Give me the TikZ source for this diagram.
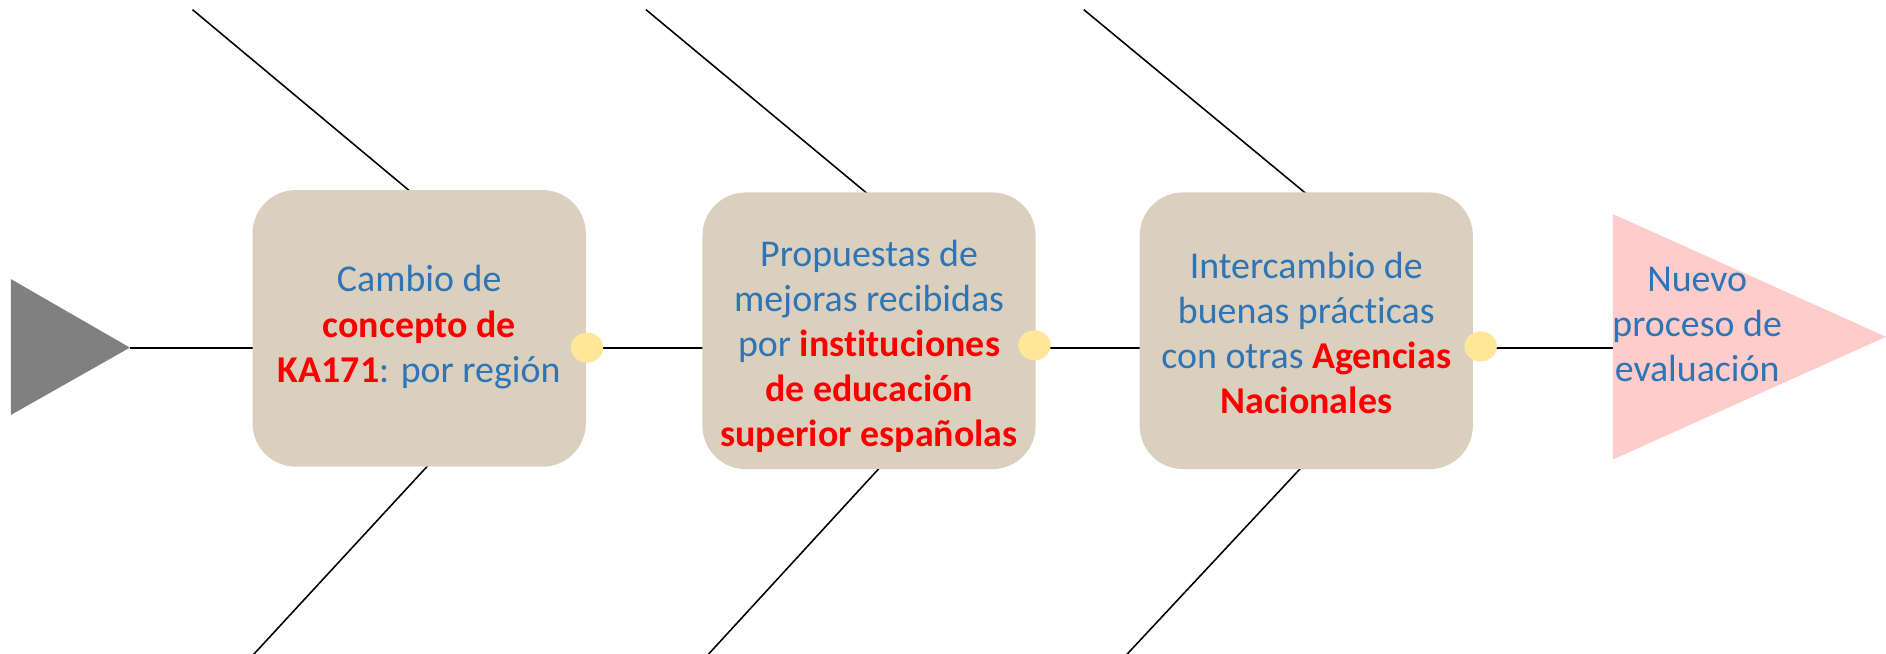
\documentclass[tikz,border=0pt]{standalone}
\usepackage{fontspec}
\usetikzlibrary{shapes.geometric}
\setmainfont{Carlito}[Ligatures=NoCommon]
\definecolor{txtblue}{HTML}{2E75B6}
\definecolor{boxfill}{HTML}{DBCFBE}
\definecolor{dotfill}{HTML}{FFE699}
\definecolor{pinkfill}{HTML}{FFCCCC}
\definecolor{arrgray}{HTML}{808080}
\definecolor{hired}{HTML}{FF0000}
\newcommand{\hl}[1]{\textcolor{hired}{\textbf{#1}}}
\begin{document}
\begin{tikzpicture}[x=1pt,y=-1pt,
  stepbox/.style={fill=boxfill, rounded corners=36pt, minimum width=277pt, minimum height=230pt, inner sep=0pt},
  steptext/.style={text=txtblue, align=center, inner sep=0pt, font=\fontsize{31.5}{37.5}\selectfont},
  joint/.style={fill=dotfill, ellipse, minimum width=27pt, minimum height=25pt, inner sep=0pt},
  bone/.style={draw=black, line width=1.3pt},
  spine/.style={draw=black, line width=1.8pt}]
\useasboundingbox (0,0) rectangle (1568,543);

% diagonal bones (ends hidden behind boxes)
\coordinate (u1) at (160,8);   \coordinate (u1e) at (390,200);
\coordinate (u2) at (537,8);   \coordinate (u2e) at (768,200);
\coordinate (u3) at (901,8);   \coordinate (u3e) at (1133,200);
\coordinate (d1) at (210,545); \coordinate (d1e) at (390,350);
\coordinate (d2) at (588,545); \coordinate (d2e) at (767,350);
\coordinate (d3) at (936,545); \coordinate (d3e) at (1118,350);
\draw[bone] (u1) -- (u1e);
\draw[bone] (u2) -- (u2e);
\draw[bone] (u3) -- (u3e);
\draw[bone] (d1) -- (d1e);
\draw[bone] (d2) -- (d2e);
\draw[bone] (d3) -- (d3e);

% tail and head
\coordinate (gtop) at (9,232); \coordinate (gbot) at (9,345); \coordinate (gtip) at (108,289);
\fill[arrgray] (gtop) -- (gtip) -- (gbot) -- cycle;
\coordinate (ptop) at (1341,178); \coordinate (pbot) at (1341,382); \coordinate (ptip) at (1568,280);
\coordinate (pbase) at (1341,289);

% spine
\draw[spine] (gtip) -- (pbase);

\fill[pinkfill] (ptop) -- (ptip) -- (pbot) -- cycle;

% boxes
\node[stepbox] (b1) at (348.5,273) {};
\node[stepbox] (b2) at (722.5,275) {};
\node[stepbox] (b3) at (1086,275) {};

\node[joint] (j1) at (488,289) {};
\node[joint] (j2) at (860,287) {};
\node[joint] (j3) at (1231,288) {};

% texts
\node[steptext] (t1) at (348.5,272) {Cambio de\\ \hl{concepto de}\\ \hl{KA171}: por región};
\node[steptext] (t2) at (722.5,288) {Propuestas de\\ mejoras recibidas\\ por \hl{instituciones}\\ \hl{de educación}\\ \hl{superior españolas}};
\node[steptext] (t3) at (1086,277) {Intercambio de\\ buenas prácticas\\ con otras \hl{Agencias}\\ \hl{Nacionales}};
\node[steptext] (t4) at (1411,270) {Nuevo\\ proceso de\\ evaluación};
\end{tikzpicture}
\end{document}
